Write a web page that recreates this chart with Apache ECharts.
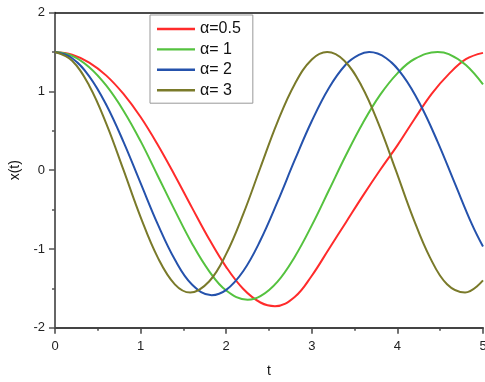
<!DOCTYPE html>
<html><head><meta charset="utf-8">
<script src="https://cdn.jsdelivr.net/npm/echarts@6/dist/echarts.min.js"></script>
<style>html,body{margin:0;padding:0;background:#fff}#c{width:485px;height:382px}</style>
</head><body><div id="c"></div>
<script>
const seriesNames = ['α=0.5', 'α= 1', 'α= 2', 'α= 3'];
const colors = ['#ff2b2b', '#55c23f', '#2552ac', '#7a7a2a'];
const xTicks = [0, 1, 2, 3, 4, 5];
const yTicks = [-2, -1, 0, 1, 2];

const tRed = [0,0.2,0.4,0.6,0.8,1.0,1.2,1.4,1.6,1.8,2.0,2.2,2.4,2.57,2.8,3.0,3.2,3.4,3.6,3.8,4.0,4.2,4.4,4.6,4.8,5.0];
const yRed = [1.5,1.467,1.367,1.201,0.968,0.675,0.323,-0.067,-0.475,-0.874,-1.23,-1.509,-1.68,-1.727,-1.61,-1.34,-1.0,-0.66,-0.32,0.005,0.315,0.65,0.97,1.22,1.41,1.49];

const tGreen = [0,0.2,0.4,0.6,0.8,1.0,1.2,1.4,1.6,1.8,2.0,2.25,2.4,2.6,2.8,3.0,3.2,3.4,3.6,3.8,4.0,4.2,4.47,4.6,4.8,5.0];
const yGreen = [1.5,1.452,1.308,1.073,0.756,0.369,-0.07,-0.51,-0.93,-1.281,-1.528,-1.645,-1.60,-1.414,-1.101,-0.701,-0.255,0.193,0.606,0.959,1.23,1.412,1.5,1.474,1.336,1.089];

const tBlue = [0,0.2,0.4,0.6,0.8,1.0,1.2,1.4,1.6,1.83,2.0,2.2,2.4,2.6,2.8,3.0,3.2,3.4,3.55,3.67,3.87,4.07,4.27,4.47,4.67,4.87,5.0];
const yBlue = [1.5,1.422,1.192,0.828,0.36,-0.164,-0.685,-1.135,-1.451,-1.587,-1.52,-1.28,-0.89,-0.40,0.127,0.625,1.045,1.345,1.465,1.5,1.422,1.192,0.828,0.36,-0.164,-0.685,-0.97];

const tOlive = [0,0.2,0.4,0.6,0.8,1.0,1.2,1.4,1.58,1.8,2.0,2.2,2.4,2.6,2.8,3.0,3.18,3.38,3.58,3.78,3.98,4.18,4.38,4.58,4.79,5.0];
const yOlive = [1.5,1.39,1.073,0.589,0.004,-0.595,-1.107,-1.449,-1.553,-1.413,-1.063,-0.555,0.034,0.614,1.092,1.405,1.5,1.39,1.073,0.589,0.004,-0.595,-1.107,-1.449,-1.553,-1.40];

const allT = [tRed, tGreen, tBlue, tOlive];
const allY = [yRed, yGreen, yBlue, yOlive];

const font = 'Liberation Sans, Arial, sans-serif';
const chart = echarts.init(document.getElementById('c'), null, {renderer: 'canvas'});
chart.setOption({
  animation: false,
  backgroundColor: '#fff',
  grid: {left: 55, right: 2, top: 12.7, bottom: 54.3, containLabel: false, outerBoundsMode: 'none'},
  legend: {
    orient: 'vertical', left: 150, top: 15,
    data: seriesNames,
    icon: 'path://M0,0 L38,0 L38,2.4 L0,2.4 Z',
    itemWidth: 38, itemHeight: 14, itemGap: 4.4,
    padding: [6, 12, 5, 7],
    borderColor: '#999', borderWidth: 1, backgroundColor: '#fff',
    textStyle: {fontFamily: font, fontSize: 16, color: '#111'}
  },
  xAxis: [{
    type: 'value', min: xTicks[0], max: xTicks[xTicks.length - 1], interval: 1,
    name: 't', nameLocation: 'middle', nameGap: 36,
    nameTextStyle: {fontFamily: font, fontSize: 14, color: '#111'},
    axisLine: {show: true, onZero: false, lineStyle: {color: '#444', width: 2}},
    axisTick: {show: true, inside: false, length: 6, lineStyle: {color: '#444', width: 1.5}},
    minorTick: {show: true, splitNumber: 2, length: 3, lineStyle: {color: '#444', width: 1.5}},
    axisLabel: {fontFamily: font, fontSize: 13, color: '#222', margin: 12, hideOverlap: false},
    splitLine: {show: false}
  }, {
    type: 'value', position: 'top', min: xTicks[0], max: xTicks[xTicks.length - 1],
    axisLine: {show: true, onZero: false, lineStyle: {color: '#111', width: 1.5}},
    axisTick: {show: false}, axisLabel: {show: false}, splitLine: {show: false}
  }],
  yAxis: {
    type: 'value', min: yTicks[0], max: yTicks[yTicks.length - 1], interval: 1,
    name: 'x(t)', nameLocation: 'middle', nameGap: 29,
    nameTextStyle: {fontFamily: font, fontSize: 14, color: '#111'},
    axisLine: {show: true, onZero: false, lineStyle: {color: '#666', width: 2}},
    axisTick: {show: true, inside: false, length: 6, lineStyle: {color: '#555', width: 1.5}},
    minorTick: {show: true, splitNumber: 2, length: 3, lineStyle: {color: '#555', width: 1.5}},
    axisLabel: {fontFamily: font, fontSize: 13, color: '#222', margin: 10},
    splitLine: {show: false}
  },
  series: seriesNames.map((n, i) => ({
    name: n, type: 'line', xAxisIndex: 0,
    data: allT[i].map((t, j) => [t, allY[i][j]]),
    smooth: 0.4, symbol: 'none', clip: true,
    lineStyle: {color: colors[i], width: 2},
    itemStyle: {color: colors[i]}
  }))
});
</script></body></html>
